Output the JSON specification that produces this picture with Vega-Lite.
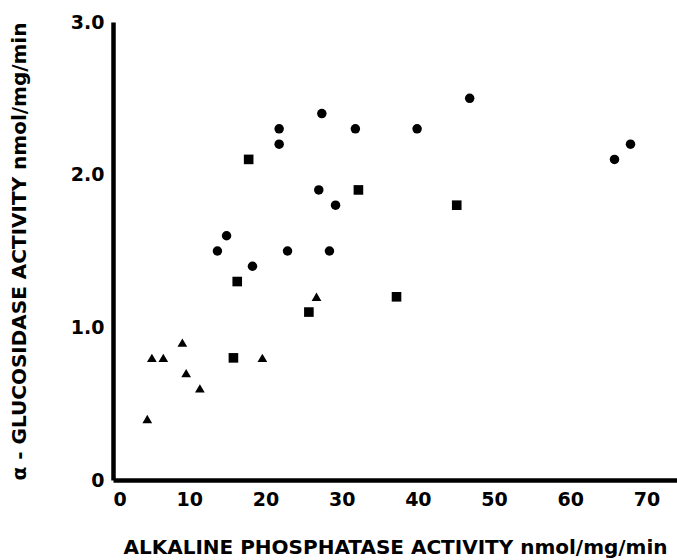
{
  "$schema": "https://vega.github.io/schema/vega-lite/v6.json",
  "width": 564,
  "height": 458,
  "autosize": "none",
  "padding": {"left": 113, "top": 22, "right": 0, "bottom": 80},
  "background": "white",
  "config": {
    "view": {"stroke": null},
    "font": "DejaVu Sans",
    "axis": {"grid": false, "ticks": false, "domainColor": "black", "domainWidth": 4.5, "labelColor": "black", "labelFont": "DejaVu Sans", "labelFontWeight": "bold", "labelFontSize": 19, "titleColor": "black", "titleFont": "DejaVu Sans", "titleFontWeight": "bold", "titleFontSize": 20}
  },
  "data": {
    "values": [
      {"ap": 27.4, "ag": 2.4, "group": "circle"},
      {"ap": 21.8, "ag": 2.3, "group": "circle"},
      {"ap": 21.8, "ag": 2.2, "group": "circle"},
      {"ap": 27.0, "ag": 1.9, "group": "circle"},
      {"ap": 29.2, "ag": 1.8, "group": "circle"},
      {"ap": 14.9, "ag": 1.6, "group": "circle"},
      {"ap": 13.7, "ag": 1.5, "group": "circle"},
      {"ap": 22.9, "ag": 1.5, "group": "circle"},
      {"ap": 28.4, "ag": 1.5, "group": "circle"},
      {"ap": 18.3, "ag": 1.4, "group": "circle"},
      {"ap": 46.8, "ag": 2.5, "group": "circle"},
      {"ap": 31.8, "ag": 2.3, "group": "circle"},
      {"ap": 39.9, "ag": 2.3, "group": "circle"},
      {"ap": 67.9, "ag": 2.2, "group": "circle"},
      {"ap": 65.8, "ag": 2.1, "group": "circle"},
      {"ap": 17.8, "ag": 2.1, "group": "square"},
      {"ap": 16.3, "ag": 1.3, "group": "square"},
      {"ap": 32.2, "ag": 1.9, "group": "square"},
      {"ap": 45.1, "ag": 1.8, "group": "square"},
      {"ap": 37.2, "ag": 1.2, "group": "square"},
      {"ap": 15.8, "ag": 0.8, "group": "square"},
      {"ap": 25.7, "ag": 1.1, "group": "square"},
      {"ap": 4.5, "ag": 0.4, "group": "triangle"},
      {"ap": 5.1, "ag": 0.8, "group": "triangle"},
      {"ap": 6.6, "ag": 0.8, "group": "triangle"},
      {"ap": 9.1, "ag": 0.9, "group": "triangle"},
      {"ap": 9.6, "ag": 0.7, "group": "triangle"},
      {"ap": 11.4, "ag": 0.6, "group": "triangle"},
      {"ap": 19.6, "ag": 0.8, "group": "triangle"},
      {"ap": 26.7, "ag": 1.2, "group": "triangle"}
    ]
  },
  "mark": {"type": "point", "filled": true, "color": "black", "opacity": 1},
  "encoding": {
    "x": {
      "field": "ap", "type": "quantitative",
      "scale": {"domain": [0, 74], "nice": false, "zero": false},
      "axis": {"values": [0, 10, 20, 30, 40, 50, 60, 70], "labelPadding": 10, "title": "ALKALINE PHOSPHATASE ACTIVITY nmol/mg/min", "titlePadding": 28}
    },
    "y": {
      "field": "ag", "type": "quantitative",
      "scale": {"domain": [0, 3], "nice": false},
      "axis": {"values": [0, 1, 2, 3], "labelExpr": "datum.value == 0 ? '0' : format(datum.value, '.1f')", "labelPadding": 9, "title": "α - GLUCOSIDASE ACTIVITY nmol/mg/min", "titlePadding": 41}
    },
    "shape": {
      "field": "group", "type": "nominal",
      "scale": {"domain": ["circle", "square", "triangle"], "range": ["circle", "square", "triangle-up"]},
      "legend": null
    },
    "size": {
      "field": "group", "type": "nominal",
      "scale": {"domain": ["circle", "square", "triangle"], "range": [90, 95, 80]},
      "legend": null
    }
  }
}
